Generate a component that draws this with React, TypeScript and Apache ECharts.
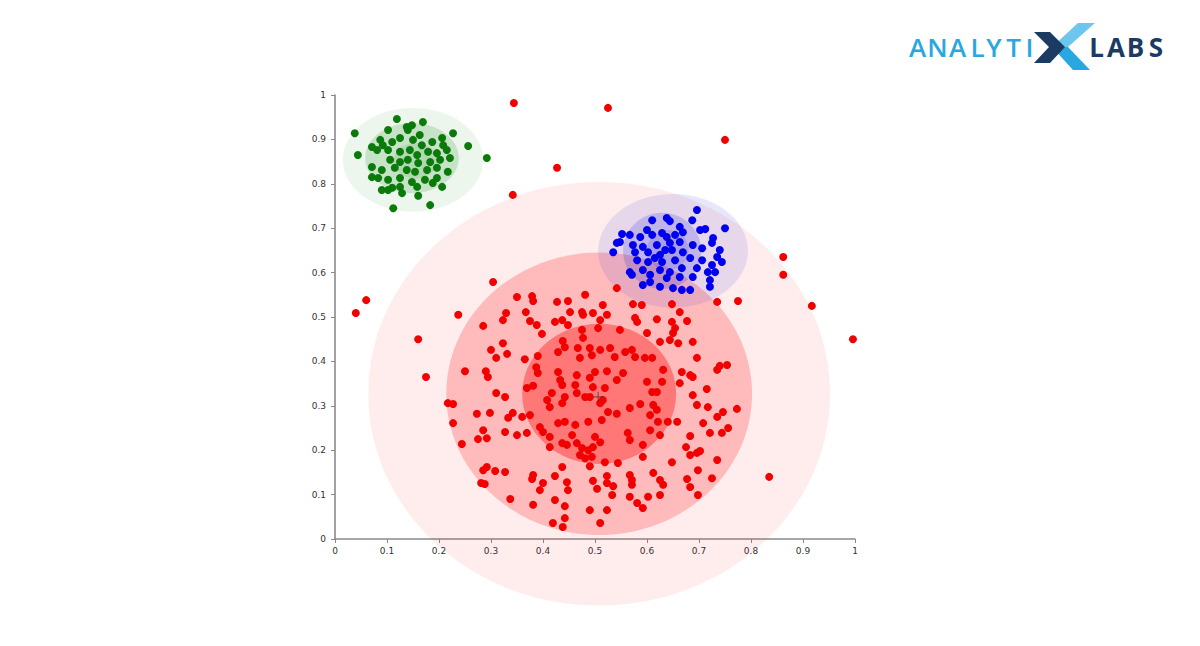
import React, { useEffect, useRef } from "react";
import * as echarts from "echarts";

const xTicks = ["0", "0.1", "0.2", "0.3", "0.4", "0.5", "0.6", "0.7", "0.8", "0.9", "1"];

const redPoints: number[][] = [
  [0.344, 0.982], [0.525, 0.971], [0.75, 0.899], [0.427, 0.836], [0.342, 0.775], [0.862, 0.635], [0.862, 0.595],
  [0.917, 0.525], [0.996, 0.45], [0.06, 0.538], [0.04, 0.509], [0.16, 0.45], [0.175, 0.365], [0.304, 0.579],
  [0.835, 0.14], [0.775, 0.536], [0.735, 0.534], [0.237, 0.505],
  [0.35, 0.545], [0.379, 0.547], [0.381, 0.536], [0.427, 0.534], [0.448, 0.536], [0.481, 0.55], [0.542, 0.565],
  [0.515, 0.527], [0.475, 0.511], [0.452, 0.511], [0.329, 0.509], [0.367, 0.511], [0.323, 0.493], [0.375, 0.491],
  [0.388, 0.482], [0.437, 0.493], [0.448, 0.482], [0.477, 0.505], [0.496, 0.509], [0.523, 0.505], [0.51, 0.493],
  [0.573, 0.529], [0.59, 0.527], [0.648, 0.529], [0.663, 0.511], [0.577, 0.498], [0.581, 0.489], [0.619, 0.495],
  [0.648, 0.489], [0.677, 0.491], [0.285, 0.48], [0.423, 0.489],
  [0.6, 0.464], [0.654, 0.475], [0.65, 0.464], [0.398, 0.462], [0.475, 0.471], [0.506, 0.475], [0.548, 0.471],
  [0.477, 0.453], [0.438, 0.446], [0.323, 0.441], [0.3, 0.426], [0.331, 0.417], [0.625, 0.444], [0.644, 0.448],
  [0.66, 0.441], [0.688, 0.444], [0.429, 0.421], [0.442, 0.432], [0.467, 0.43], [0.49, 0.43], [0.51, 0.426],
  [0.529, 0.43], [0.558, 0.421], [0.571, 0.426], [0.31, 0.408], [0.365, 0.405], [0.39, 0.412], [0.471, 0.408],
  [0.494, 0.414], [0.538, 0.41], [0.577, 0.41], [0.596, 0.408], [0.61, 0.408], [0.696, 0.408],
  [0.25, 0.378], [0.29, 0.378], [0.294, 0.365], [0.387, 0.387], [0.39, 0.374], [0.429, 0.376], [0.465, 0.369],
  [0.5, 0.376], [0.523, 0.378], [0.554, 0.374], [0.631, 0.381], [0.667, 0.376], [0.683, 0.369], [0.735, 0.381],
  [0.754, 0.392], [0.74, 0.39], [0.369, 0.34], [0.381, 0.345], [0.433, 0.358], [0.437, 0.347], [0.462, 0.347],
  [0.49, 0.363], [0.496, 0.342], [0.519, 0.34], [0.542, 0.358], [0.6, 0.354], [0.629, 0.354], [0.663, 0.351],
  [0.688, 0.365], [0.715, 0.338], [0.31, 0.329], [0.327, 0.32], [0.417, 0.329], [0.465, 0.329], [0.481, 0.32],
  [0.61, 0.331], [0.619, 0.331], [0.217, 0.306], [0.227, 0.304], [0.408, 0.313], [0.442, 0.32], [0.49, 0.32],
  [0.51, 0.306], [0.515, 0.313], [0.688, 0.324],
  [0.413, 0.297], [0.437, 0.306], [0.525, 0.286], [0.542, 0.282], [0.567, 0.295], [0.587, 0.304], [0.612, 0.302],
  [0.619, 0.291], [0.606, 0.279], [0.621, 0.264], [0.64, 0.264], [0.696, 0.302], [0.717, 0.297], [0.773, 0.293],
  [0.735, 0.275], [0.746, 0.286], [0.342, 0.284], [0.333, 0.273], [0.36, 0.275], [0.375, 0.279], [0.394, 0.252],
  [0.4, 0.241], [0.429, 0.261], [0.442, 0.264], [0.462, 0.257], [0.487, 0.264], [0.513, 0.268], [0.327, 0.241],
  [0.35, 0.234], [0.369, 0.239], [0.413, 0.23], [0.456, 0.234], [0.5, 0.23], [0.563, 0.239], [0.567, 0.223],
  [0.606, 0.245], [0.625, 0.234], [0.658, 0.264], [0.708, 0.261], [0.683, 0.232], [0.721, 0.239], [0.744, 0.239],
  [0.756, 0.25], [0.227, 0.261], [0.273, 0.282], [0.298, 0.284], [0.285, 0.245], [0.275, 0.225], [0.292, 0.227],
  [0.244, 0.214],
  [0.437, 0.216], [0.446, 0.212], [0.465, 0.216], [0.475, 0.205], [0.487, 0.2], [0.496, 0.207], [0.413, 0.207],
  [0.471, 0.189], [0.481, 0.182], [0.494, 0.185], [0.51, 0.218], [0.592, 0.212], [0.592, 0.185], [0.675, 0.207],
  [0.683, 0.189], [0.696, 0.194], [0.702, 0.198], [0.735, 0.178], [0.648, 0.173], [0.519, 0.173], [0.544, 0.171],
  [0.437, 0.162], [0.49, 0.164], [0.285, 0.155], [0.292, 0.162], [0.308, 0.153], [0.327, 0.151], [0.381, 0.144],
  [0.423, 0.142], [0.523, 0.142], [0.567, 0.144], [0.612, 0.149], [0.698, 0.155],
  [0.281, 0.126], [0.288, 0.124], [0.379, 0.135], [0.4, 0.126], [0.446, 0.128], [0.496, 0.131], [0.523, 0.126],
  [0.535, 0.119], [0.571, 0.133], [0.571, 0.122], [0.625, 0.133], [0.631, 0.122], [0.677, 0.135], [0.683, 0.117],
  [0.725, 0.137], [0.337, 0.09], [0.394, 0.11], [0.423, 0.088], [0.448, 0.11], [0.504, 0.113], [0.533, 0.099],
  [0.567, 0.095], [0.581, 0.081], [0.592, 0.07], [0.602, 0.095], [0.625, 0.099], [0.698, 0.099], [0.381, 0.077],
  [0.442, 0.074], [0.49, 0.065], [0.523, 0.065], [0.442, 0.047], [0.419, 0.036], [0.438, 0.027], [0.51, 0.036]
];

const bluePoints: number[][] = [
  [0.696, 0.741], [0.75, 0.7], [0.638, 0.723], [0.644, 0.716], [0.687, 0.718], [0.61, 0.718], [0.663, 0.703],
  [0.702, 0.696], [0.712, 0.698], [0.552, 0.687], [0.567, 0.685], [0.587, 0.68], [0.6, 0.696], [0.61, 0.685],
  [0.629, 0.689], [0.638, 0.68], [0.654, 0.685], [0.669, 0.691], [0.727, 0.678], [0.725, 0.667], [0.542, 0.667],
  [0.573, 0.662], [0.592, 0.658], [0.619, 0.662], [0.644, 0.667], [0.663, 0.669], [0.688, 0.662], [0.535, 0.646],
  [0.577, 0.646], [0.602, 0.646], [0.625, 0.64], [0.648, 0.651], [0.669, 0.646], [0.706, 0.655], [0.74, 0.651],
  [0.735, 0.635], [0.744, 0.624], [0.581, 0.628], [0.602, 0.624], [0.629, 0.624], [0.654, 0.628], [0.683, 0.633],
  [0.706, 0.628], [0.725, 0.617], [0.567, 0.601], [0.592, 0.606], [0.625, 0.606], [0.644, 0.601], [0.667, 0.61],
  [0.696, 0.61], [0.717, 0.601], [0.731, 0.601], [0.571, 0.595], [0.606, 0.595], [0.638, 0.588], [0.663, 0.59],
  [0.688, 0.59], [0.592, 0.572], [0.625, 0.568], [0.65, 0.565], [0.667, 0.561], [0.683, 0.561], [0.721, 0.583],
  [0.721, 0.568], [0.606, 0.579], [0.548, 0.669], [0.615, 0.633], [0.635, 0.651]
];

const greenPoints: number[][] = [
  [0.038, 0.914], [0.044, 0.865], [0.119, 0.946], [0.169, 0.939], [0.102, 0.921], [0.138, 0.928], [0.14, 0.921],
  [0.227, 0.914], [0.256, 0.885], [0.292, 0.858], [0.087, 0.899], [0.081, 0.876], [0.11, 0.894], [0.125, 0.903],
  [0.15, 0.899], [0.167, 0.887], [0.187, 0.894], [0.206, 0.903], [0.208, 0.887], [0.102, 0.876], [0.125, 0.872],
  [0.144, 0.876], [0.158, 0.865], [0.179, 0.872], [0.196, 0.869], [0.215, 0.876], [0.221, 0.858], [0.106, 0.854],
  [0.125, 0.849], [0.14, 0.854], [0.16, 0.847], [0.183, 0.849], [0.202, 0.854], [0.071, 0.838], [0.09, 0.831],
  [0.115, 0.836], [0.138, 0.831], [0.154, 0.827], [0.177, 0.831], [0.196, 0.836], [0.217, 0.827], [0.071, 0.815],
  [0.083, 0.813], [0.102, 0.809], [0.125, 0.813], [0.148, 0.804], [0.173, 0.809], [0.196, 0.813], [0.102, 0.786],
  [0.125, 0.793], [0.158, 0.793], [0.188, 0.802], [0.206, 0.793], [0.09, 0.786], [0.11, 0.791], [0.129, 0.779],
  [0.16, 0.773], [0.183, 0.752], [0.112, 0.745], [0.071, 0.883], [0.092, 0.887], [0.163, 0.91], [0.148, 0.932]
];

// [centerX, centerY, radiusX, radiusY, colour]
const clusterRegions: (number | string)[][] = [
  [0.508, 0.327, 0.444, 0.477, "rgba(255,0,0,0.07)"],
  [0.508, 0.327, 0.294, 0.318, "rgba(255,0,0,0.21)"],
  [0.508, 0.327, 0.148, 0.158, "rgba(255,0,0,0.36)"],
  [0.15, 0.854, 0.135, 0.117, "rgba(0,128,0,0.07)"],
  [0.148, 0.858, 0.09, 0.079, "rgba(0,128,0,0.16)"],
  [0.155, 0.852, 0.042, 0.04, "rgba(0,128,0,0.1)"],
  [0.65, 0.649, 0.144, 0.128, "rgba(40,40,220,0.11)"],
  [0.629, 0.649, 0.075, 0.086, "rgba(40,40,220,0.2)"],
  [0.64, 0.651, 0.04, 0.045, "rgba(40,40,220,0.14)"]
];

const centerMarks: number[][] = [[0.506, 0.32]];

const logoLeft: string[] = ["A", "N", "A", "L", "Y", "T", "I"];
const logoRight: string[] = ["L", "A", "B", "S"];

const App: React.FC = () => {
  const ref = useRef<HTMLDivElement>(null);
  useEffect(() => {
    if (!ref.current) return;
    const chart = echarts.init(ref.current, undefined, { renderer: "svg" });
    const light = "#29a8e0";
    const dark = "#1b3b63";
    const leftCenters = [917.5, 937.5, 957.5, 977.5, 994, 1013.5, 1029.5];
    const rightCenters = [1096.5, 1116, 1135.5, 1156];
    const logoText: any[] = [];
    logoLeft.forEach((ch, i) => {
      logoText.push({
        type: "text", x: leftCenters[i], y: 47,
        style: {
          text: ch, fill: light, font: "600 26px 'Open Sans', sans-serif",
          textAlign: "center", textVerticalAlign: "middle"
        }
      });
    });
    logoRight.forEach((ch, i) => {
      logoText.push({
        type: "text", x: rightCenters[i], y: 47,
        style: {
          text: ch, fill: dark, font: "700 26px 'Open Sans', sans-serif",
          textAlign: "center", textVerticalAlign: "middle"
        }
      });
    });
    const axisCommon = {
      type: "value" as const,
      min: 0, max: 1, interval: 0.1,
      axisLine: { show: true, lineStyle: { color: "#8a8a8a", width: 1.6 } },
      axisTick: { show: true, length: 4, lineStyle: { color: "#8a8a8a" } },
      splitLine: { show: false },
      axisLabel: {
        fontSize: 9, color: "#333", fontFamily: "DejaVu Sans",
        formatter: (v: number) => xTicks[Math.round(v * 10)]
      }
    };
    chart.setOption({
      animation: false,
      backgroundColor: "#ffffff",
      grid: { left: 335, top: 95, width: 520, height: 444 },
      xAxis: { ...axisCommon, axisLabel: { ...axisCommon.axisLabel, margin: 7 } },
      yAxis: { ...axisCommon, axisLabel: { ...axisCommon.axisLabel, margin: 9 } },
      graphic: [
        ...logoText,
        {
          type: "polygon",
          shape: { points: [[1078, 23], [1095, 23], [1068, 47], [1052, 47]] },
          style: { fill: "#6cc6ee" }
        },
        {
          type: "polygon",
          shape: { points: [[1052, 47], [1068, 47], [1090, 70], [1073, 70]] },
          style: { fill: light }
        },
        {
          type: "polygon",
          shape: { points: [[1034, 32], [1050, 32], [1065, 47], [1050, 63], [1034, 63], [1049, 47]] },
          style: { fill: dark }
        }
      ],
      series: [
        {
          type: "custom",
          clip: false,
          silent: true,
          z: 1,
          data: clusterRegions,
          encode: { x: 0, y: 1 },
          renderItem: (params: any, api: any) => {
            const c = api.coord([api.value(0), api.value(1)]);
            const s = api.size([api.value(2), api.value(3)]);
            return {
              type: "ellipse",
              shape: { cx: c[0], cy: c[1], rx: s[0], ry: s[1] },
              style: { fill: clusterRegions[params.dataIndex][4] as string }
            };
          }
        },
        {
          type: "scatter", z: 3, symbolSize: 8, data: redPoints,
          itemStyle: { color: "#f20000", opacity: 1 }
        },
        {
          type: "scatter", z: 3, symbolSize: 8, data: greenPoints,
          itemStyle: { color: "#0a7a0a", opacity: 1 }
        },
        {
          type: "scatter", z: 3, symbolSize: 8, data: bluePoints,
          itemStyle: { color: "#0000f0", opacity: 1 }
        },
        {
          type: "scatter", z: 4, symbol: "path://M0,5L10,5M5,0L5,10", symbolSize: 10, data: centerMarks,
          itemStyle: { color: "none", borderColor: "#5a2a2a", borderWidth: 1 }
        }
      ]
    });
    return () => chart.dispose();
  }, []);
  return (
    <div
      ref={ref}
      style={{ position: "fixed", left: 0, top: 0, width: 1200, height: 646, background: "#fff" }}
    />
  );
};

export default App;
